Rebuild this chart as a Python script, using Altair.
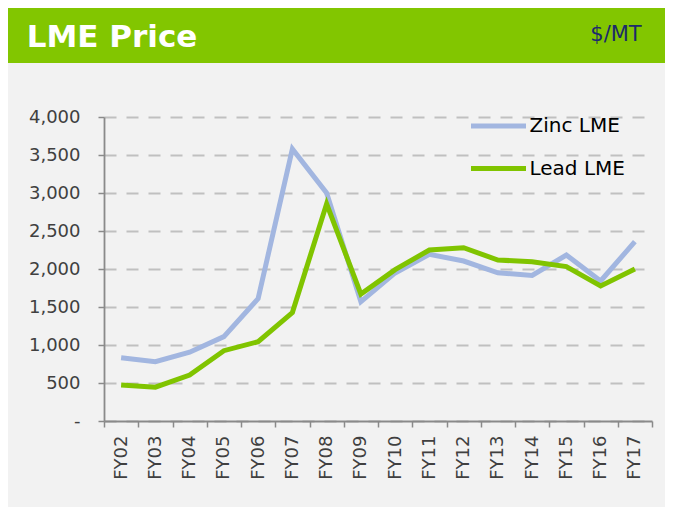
import altair as alt
import pandas as pd

# ---- data ----
categories = ["FY02", "FY03", "FY04", "FY05", "FY06", "FY07", "FY08", "FY09",
              "FY10", "FY11", "FY12", "FY13", "FY14", "FY15", "FY16", "FY17"]
zinc_lme = [833, 780, 905, 1110, 1610, 3580, 3000, 1570,
            1948, 2193, 2105, 1950, 1915, 2184, 1842, 2360]
lead_lme = [475, 445, 605, 925, 1043, 1427, 2858, 1670,
            1992, 2250, 2280, 2118, 2096, 2031, 1776, 2000]
series_names = ["Zinc LME", "Lead LME"]
series_colors = ["#a2b6e0", "#80c400"]
y_ticks = [0, 500, 1000, 1500, 2000, 2500, 3000, 3500, 4000]
header_title = "LME Price"
header_unit = "$/MT"

df = pd.DataFrame({
    "FY": categories * 2,
    "Series": [series_names[0]] * len(categories) + [series_names[1]] * len(categories),
    "Price": zinc_lme + lead_lme,
})
header_df = pd.DataFrame({"title": [header_title], "unit": [header_unit]})

FONT = "DejaVu Sans"
AXIS_GRAY = "#8a8a8a"
LABEL = "#404040"

x = alt.X(
    "FY:N", sort=categories, bandPosition=0.5,
    scale=alt.Scale(type="band", paddingInner=0, paddingOuter=0),
    axis=alt.Axis(title=None, labelAngle=270, labelAlign="right", labelBaseline="middle",
                  tickBand="extent", grid=False, labelPadding=8, tickSize=6,
                  labelFont=FONT, labelFontSize=18, labelColor=LABEL,
                  domainColor=AXIS_GRAY, domainWidth=1.8, tickColor=AXIS_GRAY, tickWidth=1.5),
)
y = alt.Y(
    "Price:Q",
    scale=alt.Scale(domain=[0, 4000], nice=False, zero=True),
    axis=alt.Axis(title=None, values=y_ticks,
                  labelExpr="datum.value == 0 ? '-\u00a0\u00a0' : format(datum.value, ',')",
                  grid=True, gridDash=[12, 10], gridColor="#c0c0c0", gridWidth=2,
                  labelPadding=18, tickSize=6,
                  labelFont=FONT, labelFontSize=18, labelColor=LABEL,
                  domainColor=AXIS_GRAY, domainWidth=1.8, tickColor=AXIS_GRAY, tickWidth=1.5),
)
color = alt.Color(
    "Series:N",
    scale=alt.Scale(domain=series_names, range=series_colors),
    legend=alt.Legend(title=None, orient="none", legendX=364.5, legendY=-21,
                      symbolType="stroke", symbolSize=3025, symbolStrokeWidth=5,
                      labelFont=FONT, labelFontSize=20, labelColor="black",
                      labelOffset=1, rowPadding=2.5, padding=0),
)

base = alt.Chart(df)
zinc_layer = base.transform_filter(alt.datum.Series == series_names[0]).mark_line(
    strokeWidth=5).encode(x=x, y=y, color=color)
lead_layer = base.transform_filter(alt.datum.Series == series_names[1]).mark_line(
    strokeWidth=5).encode(x=x, y=y, color=color)

header_rect = alt.Chart(header_df).mark_rect(color="#82c600").encode(
    x=alt.value(-96), x2=alt.value(561), y=alt.value(-109), y2=alt.value(-54))
title_text = alt.Chart(header_df).mark_text(
    align="left", baseline="alphabetic", font=FONT, fontSize=31, fontWeight="bold",
    color="white").encode(x=alt.value(-77.3), y=alt.value(-70.3), text="title:N")
unit_text = alt.Chart(header_df).mark_text(
    align="right", baseline="alphabetic", font=FONT, fontSize=21,
    color="#1c2a6b").encode(x=alt.value(537.7), y=alt.value(-76.3), text="unit:N")

chart = alt.layer(header_rect, title_text, unit_text, zinc_layer, lead_layer).properties(
    width=548, height=304,
    padding={"left": 96, "top": 109, "right": 13, "bottom": 86},
    autosize=alt.AutoSizeParams(type="none"),
    background="#f2f2f2",
).configure_view(stroke=None)

chart.save("out.html", embed_options={"renderer": "svg", "actions": False})
